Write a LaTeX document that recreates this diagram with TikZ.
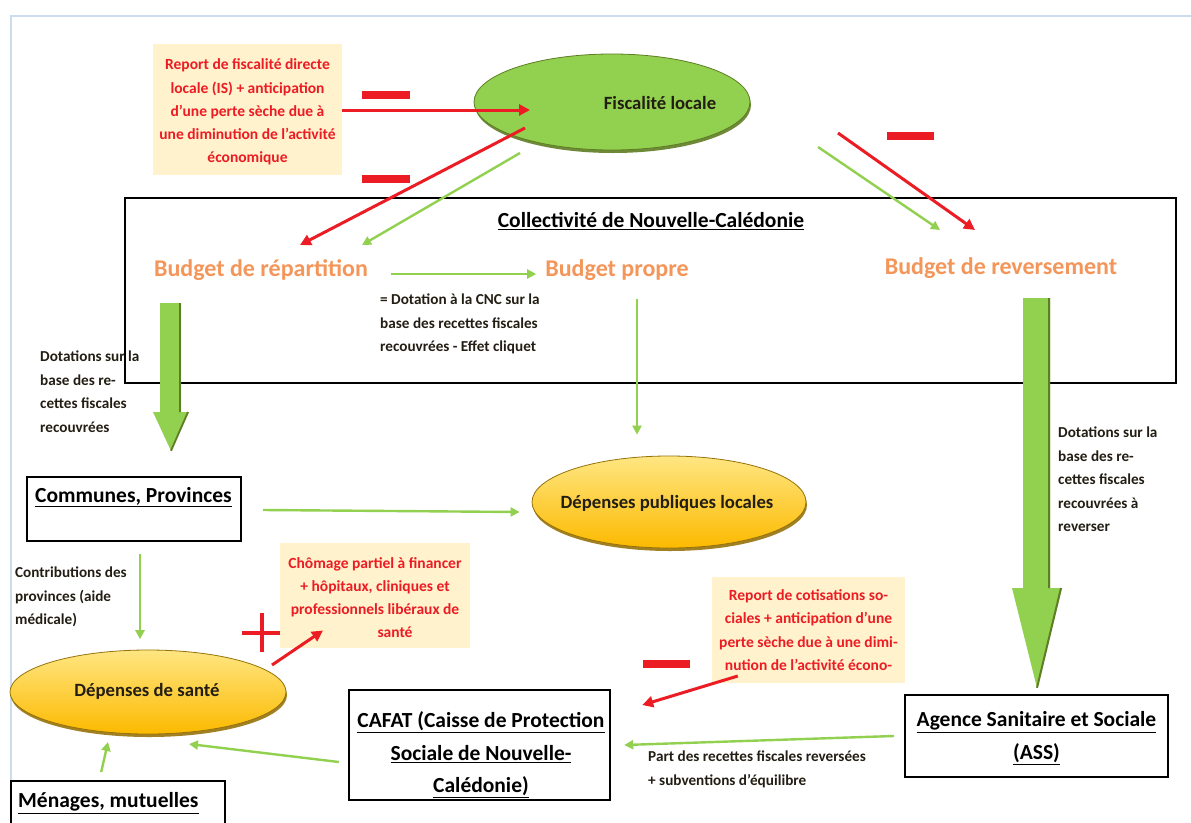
\documentclass[tikz,border=0pt]{standalone}
\usepackage{fontspec}
\setmainfont{Carlito}
\usetikzlibrary{arrows.meta,shapes.geometric,calc,shadows}
\definecolor{gr}{RGB}{146,208,80}
\definecolor{grd}{RGB}{95,125,35}
\definecolor{rd}{RGB}{236,28,36}
\definecolor{cream}{RGB}{255,242,204}
\definecolor{orng}{RGB}{244,150,90}
\definecolor{gold}{RGB}{252,186,0}
\definecolor{goldl}{RGB}{255,230,130}
\definecolor{goldd}{RGB}{150,115,10}
\definecolor{framec}{RGB}{205,220,236}
\definecolor{dark}{RGB}{35,30,20}
\begin{document}
\begin{tikzpicture}[x=1pt,y=-1pt,
  smalltxt/.style={font=\bfseries\fontsize{15.2}{23.5}\selectfont, text=dark, align=left, inner sep=0pt},
  redtxt/.style={font=\bfseries\fontsize{15.5}{23.2}\selectfont, text=rd, align=center, fill=cream, inner sep=0pt},
  budget/.style={font=\bfseries\fontsize{24}{28}\selectfont, text=orng, inner sep=0pt},
  titletxt/.style={font=\bfseries\fontsize{21.5}{32.5}\selectfont, text=black, align=center, inner sep=0pt},
  elltxt/.style={font=\bfseries\fontsize{18.7}{22}\selectfont, text=dark, inner sep=0pt},
  blackbox/.style={draw=black, line width=2.4pt, inner sep=0pt},
  ga/.style={draw=gr, line width=2.4pt, -{Triangle[length=9pt,width=9pt]}},
  ra/.style={draw=rd, line width=3pt, -{Triangle[length=11pt,width=11pt]}},
  minusbar/.style={fill=rd},
  blockarrow/.style={fill=gr},
  greenell/.style={ellipse, fill=gr, draw=grd, line width=0.8pt, inner sep=0pt,
     drop shadow={shadow xshift=1pt, shadow yshift=-3pt, fill=grd, opacity=0.9}},
  goldell/.style={ellipse, top color=goldl, bottom color=gold, draw=goldd, line width=0.8pt, inner sep=0pt,
     drop shadow={shadow xshift=1pt, shadow yshift=-3pt, fill=goldd, opacity=0.9}}
]
\useasboundingbox (0,0) rectangle (1191,822);
\fill[white] (0,0) rectangle (1191,822);
\draw[framec, line width=1.2pt] (11,822) -- (11,16) -- (1191,16);

% top cream box
\node[redtxt, minimum width=189pt, minimum height=131pt] (rep1) at (247.5,109.5)
  {\rule{0pt}{16pt}Report de fiscalité directe\\locale (IS) + anticipation\\d'une perte sèche due à\\une diminution de l'activité\\économique};

% Fiscalite locale
\node[greenell, minimum width=276pt, minimum height=96pt] (fisc) at (612,102) {};
\node[elltxt] (fisct) at (660,103) {Fiscalité locale};

% minus signs
\fill[minusbar] (362,91) rectangle (410,99);
\fill[minusbar] (362,175) rectangle (410,183);
\fill[minusbar] (887,132) rectangle (934,140);
\fill[minusbar] (643,660) rectangle (690,668);
% plus sign
\draw[rd, line width=3.5pt] (242,633) -- (282,633) (262,613) -- (262,652);

% CNC rectangle
\node[blackbox, minimum width=1051pt, minimum height=185pt] (cnc) at (650.5,290.5) {};
\node[titletxt] (cnct) at (651,221) {\underline{Collectivité de Nouvelle-Calédonie}};

\node[budget] (rep) at (261,270) {Budget de répartition};
\node[budget] (prop) at (617,270) {Budget propre};
\node[budget] (rev) at (1001,268) {Budget de reversement};

% arrows from fiscalite
\draw[ra] (rep1.east |- 0,110) -- ($(fisc.center)+(-82,8)$);
\draw[ra] ($(fisc.center)+(-87,26)$) -- ($(rep.center)+(39,-25)$);
\draw[ga] ($(fisc.center)+(-92,51)$) -- ($(rep.center)+(101,-25)$);
\draw[ra] ($(fisc.center)+(226,31)$) -- ($(rev.center)+(-26,-38)$);
\draw[ga] ($(fisc.center)+(206,45)$) -- ($(rev.center)+(-61,-38)$);

\draw[ga] ($(rep.east |- 0,274)+(23,0)$) -- ($(prop.west |- 0,274)+(-9,0)$);

\node[smalltxt, anchor=north west] (dotcnc) at (380,294)
  {= Dotation à la CNC sur la\\base des recettes fiscales\\recouvrées - Effet cliquet};

% Communes, Provinces
\node[blackbox, minimum width=214pt, minimum height=64pt] (com) at (134,509) {};
\node[titletxt, anchor=west] (comt) at (35,497) {\underline{Communes, Provinces}};

% block arrow left
\fill[blockarrow] (160,303) -- (181,303) -- (181,412) -- (189,412) -- ($(com.north -| 171,0)+(0,-25)$)
   -- (153,412) -- (160,412) -- cycle;
\draw[grd, line width=1.8pt] (180,303) -- (180,412) (188,412) -- ($(com.north -| 171,0)+(0,-25)$);

\node[smalltxt, anchor=north west] (dotl) at (40,351)
  {Dotations sur la\\base des re-\\cettes fiscales\\recouvrées};

% Depenses publiques locales
\node[goldell, minimum width=274pt, minimum height=92pt] (dpl) at (669,502) {};
\node[elltxt] (dplt) at (667,503) {Dépenses publiques locales};
\draw[ga] ($(prop.south)+(20,18)$) -- ($(prop.south)+(20,154)$);
\draw[ga] ($(com.east)+(21,1)$) -- ($(dpl.west)+(-12,10)$);

% block arrow right
\node[blackbox, minimum width=263pt, minimum height=82pt] (ass) at (1036.5,736) {};
\node[titletxt] (asst) at (1036.5,738) {\underline{Agence Sanitaire et Sociale}\\\underline{(ASS)}};
\fill[blockarrow] (1023,298) -- (1050,298) -- (1050,588) -- (1062,588) -- ($(ass.north -| 1037,0)+(0,-6)$)
   -- (1012,588) -- (1023,588) -- cycle;
\draw[grd, line width=2pt] (1049,298) -- (1049,588) (1061,588) -- ($(ass.north -| 1037,0)+(0,-6)$);

\node[smalltxt, anchor=north west] (dotr) at (1058,427)
  {Dotations sur la\\base des re-\\cettes fiscales\\recouvrées à\\reverser};

% Depenses de sante
\node[goldell, minimum width=276pt, minimum height=84pt] (ds) at (148,692) {};
\node[elltxt] (dst) at (147,691) {Dépenses de santé};
\draw[ga] ($(com.south)+(6,12)$) -- ($(com.south)+(6,97)$);
\node[smalltxt, anchor=north west] (contrib) at (15,567)
  {Contributions des\\provinces (aide\\médicale)};

% Chomage box
\node[redtxt, minimum width=190pt, minimum height=105pt] (chom) at (375,595.5)
  {\rule{0pt}{15pt}Chômage partiel à financer\\+ hôpitaux, cliniques et\\professionnels libéraux de\\\hspace*{40pt}santé};
\draw[ra] ($(ds.center)+(124,-27)$) -- ($(chom.center)+(-52,35)$);

% Report de cotisations box
\node[redtxt, minimum width=193pt, minimum height=106pt] (rep2) at (808.5,630)
  {Report de cotisations so-\\ciales + anticipation d'une\\perte sèche due à une dimi-\\nution de l'activité écono-};

% CAFAT
\node[blackbox, minimum width=261pt, minimum height=110pt] (cafat) at (479.5,745) {};
\node[titletxt] (cafatt) at (481,755)
  {\underline{CAFAT (Caisse de Protection}\\\underline{Sociale de Nouvelle-}\\\underline{Calédonie)}};
\draw[ra] ($(rep2.west)+(26,46)$) -- ($(cafat.east)+(31,-40)$);
\draw[ga] ($(ass.west)+(-10,0)$) -- ($(cafat.east)+(13,0)$);
\node[smalltxt, anchor=north west] (part) at (648,751)
  {Part des recettes fiscales reversées\\+ subventions d'équilibre};
\draw[ga] ($(cafat.west)+(-9,17)$) -- ($(ds.center)+(41,52)$);

% Menages
\node[blackbox, minimum width=214pt, minimum height=60pt, anchor=north west] (men) at (10,780) {};
\node[titletxt, anchor=west] (ment) at (18,803) {\underline{Ménages, mutuelles}};
\draw[ga] ($(men.north)+(-17,-8)$) -- ($(ds.center)+(-40,50)$);
\end{tikzpicture}
\end{document}
